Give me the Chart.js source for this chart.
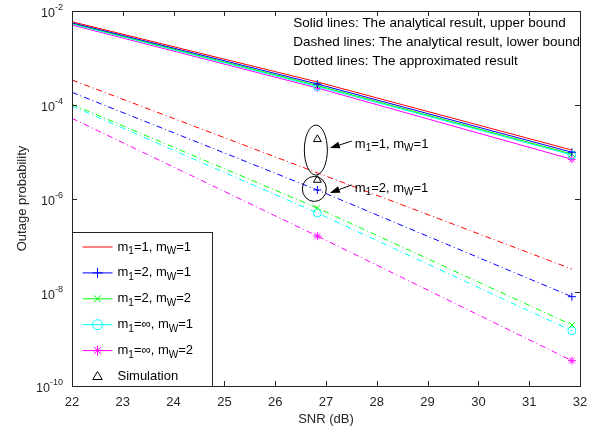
<!DOCTYPE html>
<html>
<head>
<meta charset="utf-8">
<script src="https://cdn.jsdelivr.net/npm/chart.js@4/dist/chart.umd.min.js"></script>
<style>
  html, body { margin: 0; padding: 0; background: #fff; }
</style>
</head>
<body>
<canvas id="myChart" width="602" height="434"></canvas>
<script>
// SNR points where the curves are evaluated (dB)
const snr = [22, 26.83, 31.84];
const xTicks = [22, 23, 24, 25, 26, 27, 28, 29, 30, 31, 32];
const yTicks = [1e-2, 1e-4, 1e-6, 1e-8, 1e-10];

const seriesNames = ["m_1=1, m_W=1", "m_1=2, m_W=1", "m_1=2, m_W=2", "m_1=\u221e, m_W=1", "m_1=\u221e, m_W=2"];
const seriesColors = ["#ff0000", "#0000ff", "#00ff00", "#00ffff", "#ff00ff"];
const seriesMarkers = [false, "cross", "crossRot", "circle", "star"];

// analytical upper bound (solid)
const upperM1W1 = [5.9e-3, 3.06e-4, 1.08e-5];
const upperM2W1 = [5.62e-3, 2.77e-4, 9.7e-6];
const upperM2W2 = [5.46e-3, 2.58e-4, 8.9e-6];
const upperInfW1 = [5.29e-3, 2.45e-4, 8.5e-6];
const upperInfW2 = [5.03e-3, 2.28e-4, 6.86e-6];

// analytical lower bound / approximation (dash-dot)
const lowerM1W1 = [3.37e-4, 3.53e-6, 3.13e-8];
const lowerM2W1 = [1.84e-4, 1.52e-6, 8.04e-9];
const lowerM2W2 = [1.02e-4, 6.27e-7, 2.0e-9];
const lowerInfW1 = [9.4e-5, 4.9e-7, 1.51e-9];
const lowerInfW2 = [5.14e-5, 1.58e-7, 3.47e-10];

// Monte Carlo points
const simSnr = [26.83, 26.83];
const simValues = [1.83e-5, 2.48e-6];

const upperSets = [upperM1W1, upperM2W1, upperM2W2, upperInfW1, upperInfW2];
const lowerSets = [lowerM1W1, lowerM2W1, lowerM2W2, lowerInfW1, lowerInfW2];

const notes = [
  "Solid lines: The analytical result, upper bound",
  "Dashed lines: The analytical result, lower bound",
  "Dotted lines: The approximated result",
];

const FONT = "'Liberation Sans', Arial, Helvetica, sans-serif";
const AXIS = "#262626";

function toPoints(xs, ys) {
  return xs.map((x, i) => ({ x: x, y: ys[i] }));
}

function markerRadius(marker) {
  // first point sits on the left edge, no marker there
  return marker ? [0, 4, 4] : 0;
}

const datasets = [];
upperSets.forEach((vals, i) => {
  datasets.push({
    label: seriesNames[i],
    data: toPoints(snr, vals),
    borderColor: seriesColors[i],
    borderWidth: 1,
    pointStyle: seriesMarkers[i] || "circle",
    pointRadius: markerRadius(seriesMarkers[i]),
    pointBorderColor: seriesColors[i],
    pointBackgroundColor: "rgba(0,0,0,0)",
    pointBorderWidth: 1,
    legendMarker: seriesMarkers[i],
  });
});
lowerSets.forEach((vals, i) => {
  datasets.push({
    label: seriesNames[i] + " (lower)",
    data: toPoints(snr, vals),
    borderColor: seriesColors[i],
    borderWidth: 1,
    borderDash: [6, 3, 1, 3],
    pointStyle: seriesMarkers[i] || "circle",
    pointRadius: markerRadius(seriesMarkers[i]),
    pointBorderColor: seriesColors[i],
    pointBackgroundColor: "rgba(0,0,0,0)",
    pointBorderWidth: 1,
    hideInLegend: true,
  });
});
datasets.push({
  label: "Simulation",
  data: toPoints(simSnr, simValues),
  showLine: false,
  borderColor: "#000",
  pointStyle: "triangle",
  pointRadius: 4.5,
  pointBorderColor: "#000",
  pointBackgroundColor: "rgba(0,0,0,0)",
  pointBorderWidth: 1,
  legendMarker: "triangle",
  noLine: true,
});

// callouts around the simulation points: center in data units, radii in px
const callouts = [
  { x: 26.8, y: 1.08e-5, rx: 11.5, ry: 25, tip: [14, -2], tail: [36, -9], text: "m_1=1, m_W=1" },
  { x: 26.77, y: 1.6e-6, rx: 12, ry: 12.5, tip: [15.5, 4], tail: [37.5, -4], text: "m_1=2, m_W=1" },
];

// text with "_c" meaning subscript c
function drawRich(ctx, text, x, y, size) {
  const parts = text.split(/(_.)/);
  let cx = x;
  parts.forEach((p) => {
    if (!p) return;
    if (p[0] === "_") {
      ctx.font = Math.round(size * 0.8) + "px " + FONT;
      ctx.fillText(p[1], cx, y + size * 0.35);
      cx += ctx.measureText(p[1]).width;
    } else {
      ctx.font = size + "px " + FONT;
      ctx.fillText(p, cx, y);
      cx += ctx.measureText(p).width;
    }
  });
  return cx - x;
}

function drawMarker(ctx, style, x, y, r) {
  ctx.beginPath();
  if (style === "cross" || style === "star") {
    ctx.moveTo(x - r, y); ctx.lineTo(x + r, y);
    ctx.moveTo(x, y - r); ctx.lineTo(x, y + r);
  }
  if (style === "crossRot" || style === "star") {
    const d = r * Math.SQRT1_2;
    ctx.moveTo(x - d, y - d); ctx.lineTo(x + d, y + d);
    ctx.moveTo(x - d, y + d); ctx.lineTo(x + d, y - d);
  }
  if (style === "circle") {
    ctx.arc(x, y, r, 0, Math.PI * 2);
  }
  if (style === "triangle") {
    ctx.moveTo(x, y - r);
    ctx.lineTo(x + r * 0.95, y + r * 0.6);
    ctx.lineTo(x - r * 0.95, y + r * 0.6);
    ctx.closePath();
  }
  ctx.stroke();
}

function drawArrow(ctx, x1, y1, x2, y2) {
  const ang = Math.atan2(y2 - y1, x2 - x1);
  const len = 10, half = 3.5;
  const bx = x2 - len * Math.cos(ang), by = y2 - len * Math.sin(ang);
  ctx.beginPath();
  ctx.moveTo(x1, y1);
  ctx.lineTo(bx, by);
  ctx.stroke();
  ctx.beginPath();
  ctx.moveTo(x2, y2);
  ctx.lineTo(bx + half * Math.sin(ang), by - half * Math.cos(ang));
  ctx.lineTo(bx - half * Math.sin(ang), by + half * Math.cos(ang));
  ctx.closePath();
  ctx.fill();
}

const matlabLook = {
  id: "matlabLook",
  afterDatasetsDraw(chart) {
    const ctx = chart.ctx;
    const area = chart.chartArea;
    const xs = chart.scales.x, ys = chart.scales.y;
    ctx.save();

    // frame + inward ticks
    ctx.strokeStyle = AXIS;
    ctx.lineWidth = 1;
    ctx.strokeRect(Math.round(area.left) + 0.5, Math.round(area.top) + 0.5,
      Math.round(area.right - area.left), Math.round(area.bottom - area.top));
    ctx.beginPath();
    xTicks.forEach((v) => {
      const px = Math.round(xs.getPixelForValue(v)) + 0.5;
      ctx.moveTo(px, area.bottom); ctx.lineTo(px, area.bottom - 5);
      ctx.moveTo(px, area.top); ctx.lineTo(px, area.top + 5);
    });
    yTicks.forEach((v) => {
      const py = Math.round(ys.getPixelForValue(v)) + 0.5;
      ctx.moveTo(area.left, py); ctx.lineTo(area.left + 5, py);
      ctx.moveTo(area.right, py); ctx.lineTo(area.right - 5, py);
    });
    ctx.stroke();

    // tick labels
    ctx.fillStyle = AXIS;
    ctx.textBaseline = "middle";
    ctx.textAlign = "center";
    ctx.font = "13px " + FONT;
    xTicks.forEach((v) => {
      ctx.fillText(String(v), xs.getPixelForValue(v), area.bottom + 16);
    });
    ctx.textAlign = "left";
    yTicks.forEach((v) => {
      const py = ys.getPixelForValue(v);
      const exp = "-" + Math.round(-Math.log10(v));
      ctx.font = "12.5px " + FONT;
      const w10 = ctx.measureText("10").width;
      ctx.font = "9px " + FONT;
      const wExp = ctx.measureText(exp).width;
      const x0 = area.left - 9 - w10 - wExp;
      ctx.font = "12.5px " + FONT;
      ctx.fillText("10", x0, py + 3);
      ctx.font = "9px " + FONT;
      ctx.fillText(exp, x0 + w10, py - 3);
    });

    // axis titles
    ctx.font = "13px " + FONT;
    ctx.textAlign = "center";
    ctx.fillText("SNR (dB)", (area.left + area.right) / 2, area.bottom + 33);
    ctx.save();
    ctx.translate(22, (area.top + area.bottom) / 2);
    ctx.rotate(-Math.PI / 2);
    ctx.fillText("Outage probability", 0, 0);
    ctx.restore();

    // line-style notes, top right
    ctx.fillStyle = "#000";
    ctx.font = "13.5px " + FONT;
    ctx.textAlign = "left";
    const noteW = Math.max(...notes.map((t) => ctx.measureText(t).width));
    notes.forEach((t, i) => {
      ctx.fillText(t, area.right - noteW, 23 + i * 19);
    });

    // ellipses, arrows and their labels
    ctx.strokeStyle = "#000";
    ctx.fillStyle = "#000";
    callouts.forEach((c) => {
      const cx = xs.getPixelForValue(c.x), cy = ys.getPixelForValue(c.y);
      ctx.beginPath();
      ctx.ellipse(cx, cy, c.rx, c.ry, 0, 0, Math.PI * 2);
      ctx.stroke();
      drawArrow(ctx, cx + c.tail[0], cy + c.tail[1], cx + c.tip[0], cy + c.tip[1]);
      drawRich(ctx, c.text, cx + c.tail[0] + 3, cy + c.tail[1] + 3, 13);
    });

    // legend box
    const entries = chart.data.datasets.filter((d) => !d.hideInLegend);
    const lx = Math.round(area.left) + 0.5, ly = 232.5;
    const lw = 140, lh = Math.round(area.bottom) - 232;
    ctx.fillStyle = "#fff";
    ctx.fillRect(lx, ly, lw, lh);
    ctx.strokeStyle = AXIS;
    ctx.strokeRect(lx, ly, lw, lh);
    entries.forEach((d, i) => {
      const ry = 247 + i * 25.9;
      ctx.strokeStyle = d.borderColor;
      ctx.lineWidth = 1;
      if (!d.noLine) {
        ctx.beginPath();
        ctx.moveTo(lx + 10, ry); ctx.lineTo(lx + 40, ry);
        ctx.stroke();
      }
      if (d.legendMarker) drawMarker(ctx, d.legendMarker, lx + 25, ry, 5);
      ctx.fillStyle = "#000";
      drawRich(ctx, d.label, lx + 45, ry, 13);
    });

    ctx.restore();
  },
};

const ctx = document.getElementById("myChart");
const myChart = new Chart(ctx, {
  type: "line",
  data: { datasets: datasets },
  options: {
    responsive: false,
    animation: false,
    devicePixelRatio: 1,
    layout: { padding: { left: 72, right: 22, top: 11, bottom: 48 } },
    plugins: { legend: { display: false }, tooltip: { enabled: false } },
    elements: { line: { tension: 0 } },
    scales: {
      x: { type: "linear", min: 22, max: 32, display: false },
      y: { type: "logarithmic", min: 1e-10, max: 1e-2, display: false },
    },
  },
  plugins: [matlabLook],
});
</script>
</body>
</html>
